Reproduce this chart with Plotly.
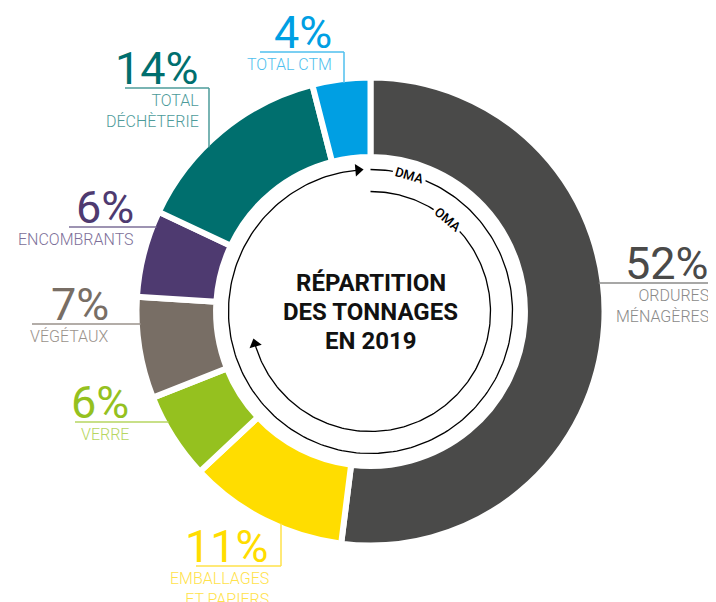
import numpy as np
import plotly.graph_objects as go

# --- data -------------------------------------------------------------
names = ["ORDURES<br>MÉNAGÈRES", "EMBALLAGES<br>ET PAPIERS", "VERRE", "VÉGÉTAUX",
         "ENCOMBRANTS", "TOTAL<br>DÉCHÈTERIE", "TOTAL CTM"]
shares = [52, 11, 6, 7, 6, 14, 4]
slice_colors = ["#4a4a49", "#ffdd00", "#95c11f", "#786e65", "#4e3a70", "#006f6e", "#009fe3"]
label_colors = ["#8a8a89", "#ffe24a", "#b6d661", "#9a928b", "#7d6f99", "#4d9b9a", "#4fbfee"]
oma_parts = 3  # ordures ménagères + emballages + verre
title_lines = ["RÉPARTITION", "DES TONNAGES", "EN 2019"]

# --- geometry (screen pixels) -------------------------------------------
W, H = 716, 602
OFF = 8  # default body margin of the html page
cx, cy = 370.5, 311.5
R = 234          # pie radius incl. half of the white slice border
r_dma, r_oma = 142, 120

# label layout: right edge of text, y of leader line, x of vertical leader, left end of line
label_pos = {
    0: dict(xr=710, yl=283, xl=None, x0=None),
    1: dict(xr=270, yl=566, xl=281, x0=196),
    2: dict(xr=130, yl=422, xl=None, x0=75),
    3: dict(xr=110, yl=324, xl=None, x0=32),
    4: dict(xr=135, yl=227, xl=None, x0=69),
    5: dict(xr=200, yl=88, xl=209, x0=125),
    6: dict(xr=333, yl=52, xl=344, x0=260),
}

fw, fh = W - OFF, H - OFF
fig = go.Figure()

fig.add_trace(go.Pie(
    values=shares, labels=names, sort=False, direction="clockwise", rotation=0,
    hole=0.66, textinfo="none", hoverinfo="label+percent",
    marker=dict(colors=slice_colors, line=dict(color="white", width=6)),
    domain=dict(x=[(cx - R - OFF) / fw, (cx + R - OFF) / fw],
                y=[1 - (cy + R - OFF) / fh, 1 - (cy - R - OFF) / fh]),
    showlegend=False,
))


def arc(r, a0, a1):
    t = np.radians(np.linspace(a0, a1, 240))
    return cx + r * np.sin(t), cy - r * np.cos(t)


# DMA: whole circle, OMA: first three slices
dma_end = 355
oma_end = sum(shares[:oma_parts]) / sum(shares) * 360 + 6
for r, a_end in [(r_dma, dma_end), (r_oma, oma_end)]:
    x, y = arc(r, 0, a_end)
    fig.add_trace(go.Scatter(x=x, y=y, mode="lines", line=dict(color="black", width=1.3),
                             hoverinfo="skip", showlegend=False))
    t = np.radians(a_end)
    fig.add_trace(go.Scatter(
        x=[cx + r * np.sin(t)], y=[cy - r * np.cos(t)], mode="markers",
        marker=dict(symbol="triangle-up", size=11, color="black", angle=a_end + 90),
        hoverinfo="skip", showlegend=False))

annotations = []
for r, a, txt in [(r_dma, 16, "DMA"), (r_oma, 40, "OMA")]:
    t = np.radians(a)
    annotations.append(dict(
        x=cx + r * np.sin(t), y=cy - r * np.cos(t), text=txt, showarrow=False,
        textangle=a, bgcolor="white", borderpad=2,
        font=dict(family="Roboto", size=13, color="black", weight=500)))

for k, line in enumerate(title_lines):
    annotations.append(dict(
        x=cx, y=cy - 29 + 29 * k, text=f"<b>{line}</b>", showarrow=False,
        font=dict(family="Roboto", size=24, color="#111111")))

shapes = []
for i, p in label_pos.items():
    col = label_colors[i]
    yl = p["yl"]
    if p["xl"] is None:
        edge = np.sqrt((R - 3) ** 2 - (yl - cy) ** 2)
        if p["x0"] is None:
            xa, xb = cx + edge - 1, p["xr"]
        else:
            xa, xb = p["x0"], cx - edge + 1
        shapes.append(dict(type="line", x0=xa, x1=xb, y0=yl, y1=yl,
                           line=dict(color=col, width=1.5)))
    else:
        xl = p["xl"]
        shapes.append(dict(type="line", x0=p["x0"], x1=xl, y0=yl, y1=yl,
                           line=dict(color=col, width=1.5)))
        edge = np.sqrt((R - 3) ** 2 - (xl - cx) ** 2)
        y_edge = cy + edge - 1 if yl > cy else cy - edge + 1
        shapes.append(dict(type="line", x0=xl, x1=xl, y0=yl, y1=y_edge,
                           line=dict(color=col, width=1.5)))
    annotations.append(dict(
        x=p["xr"], y=yl + 8, xanchor="right", yanchor="bottom", showarrow=False,
        text=f"{shares[i]}%", borderpad=0,
        font=dict(family="Roboto", size=45, color=slice_colors[i], weight=400)))
    annotations.append(dict(
        x=p["xr"], y=yl + 2, xanchor="right", yanchor="top", showarrow=False,
        text=names[i], align="right", borderpad=0,
        font=dict(family="Roboto", size=16, color=col, weight=300)))

fig.update_layout(
    width=fw, height=fh, margin=dict(l=0, r=0, t=0, b=0),
    paper_bgcolor="white", plot_bgcolor="white",
    xaxis=dict(range=[OFF, W], visible=False, fixedrange=True),
    yaxis=dict(range=[H, OFF], visible=False, fixedrange=True),
    annotations=annotations, shapes=shapes,
)

fig.write_html("out.html")
